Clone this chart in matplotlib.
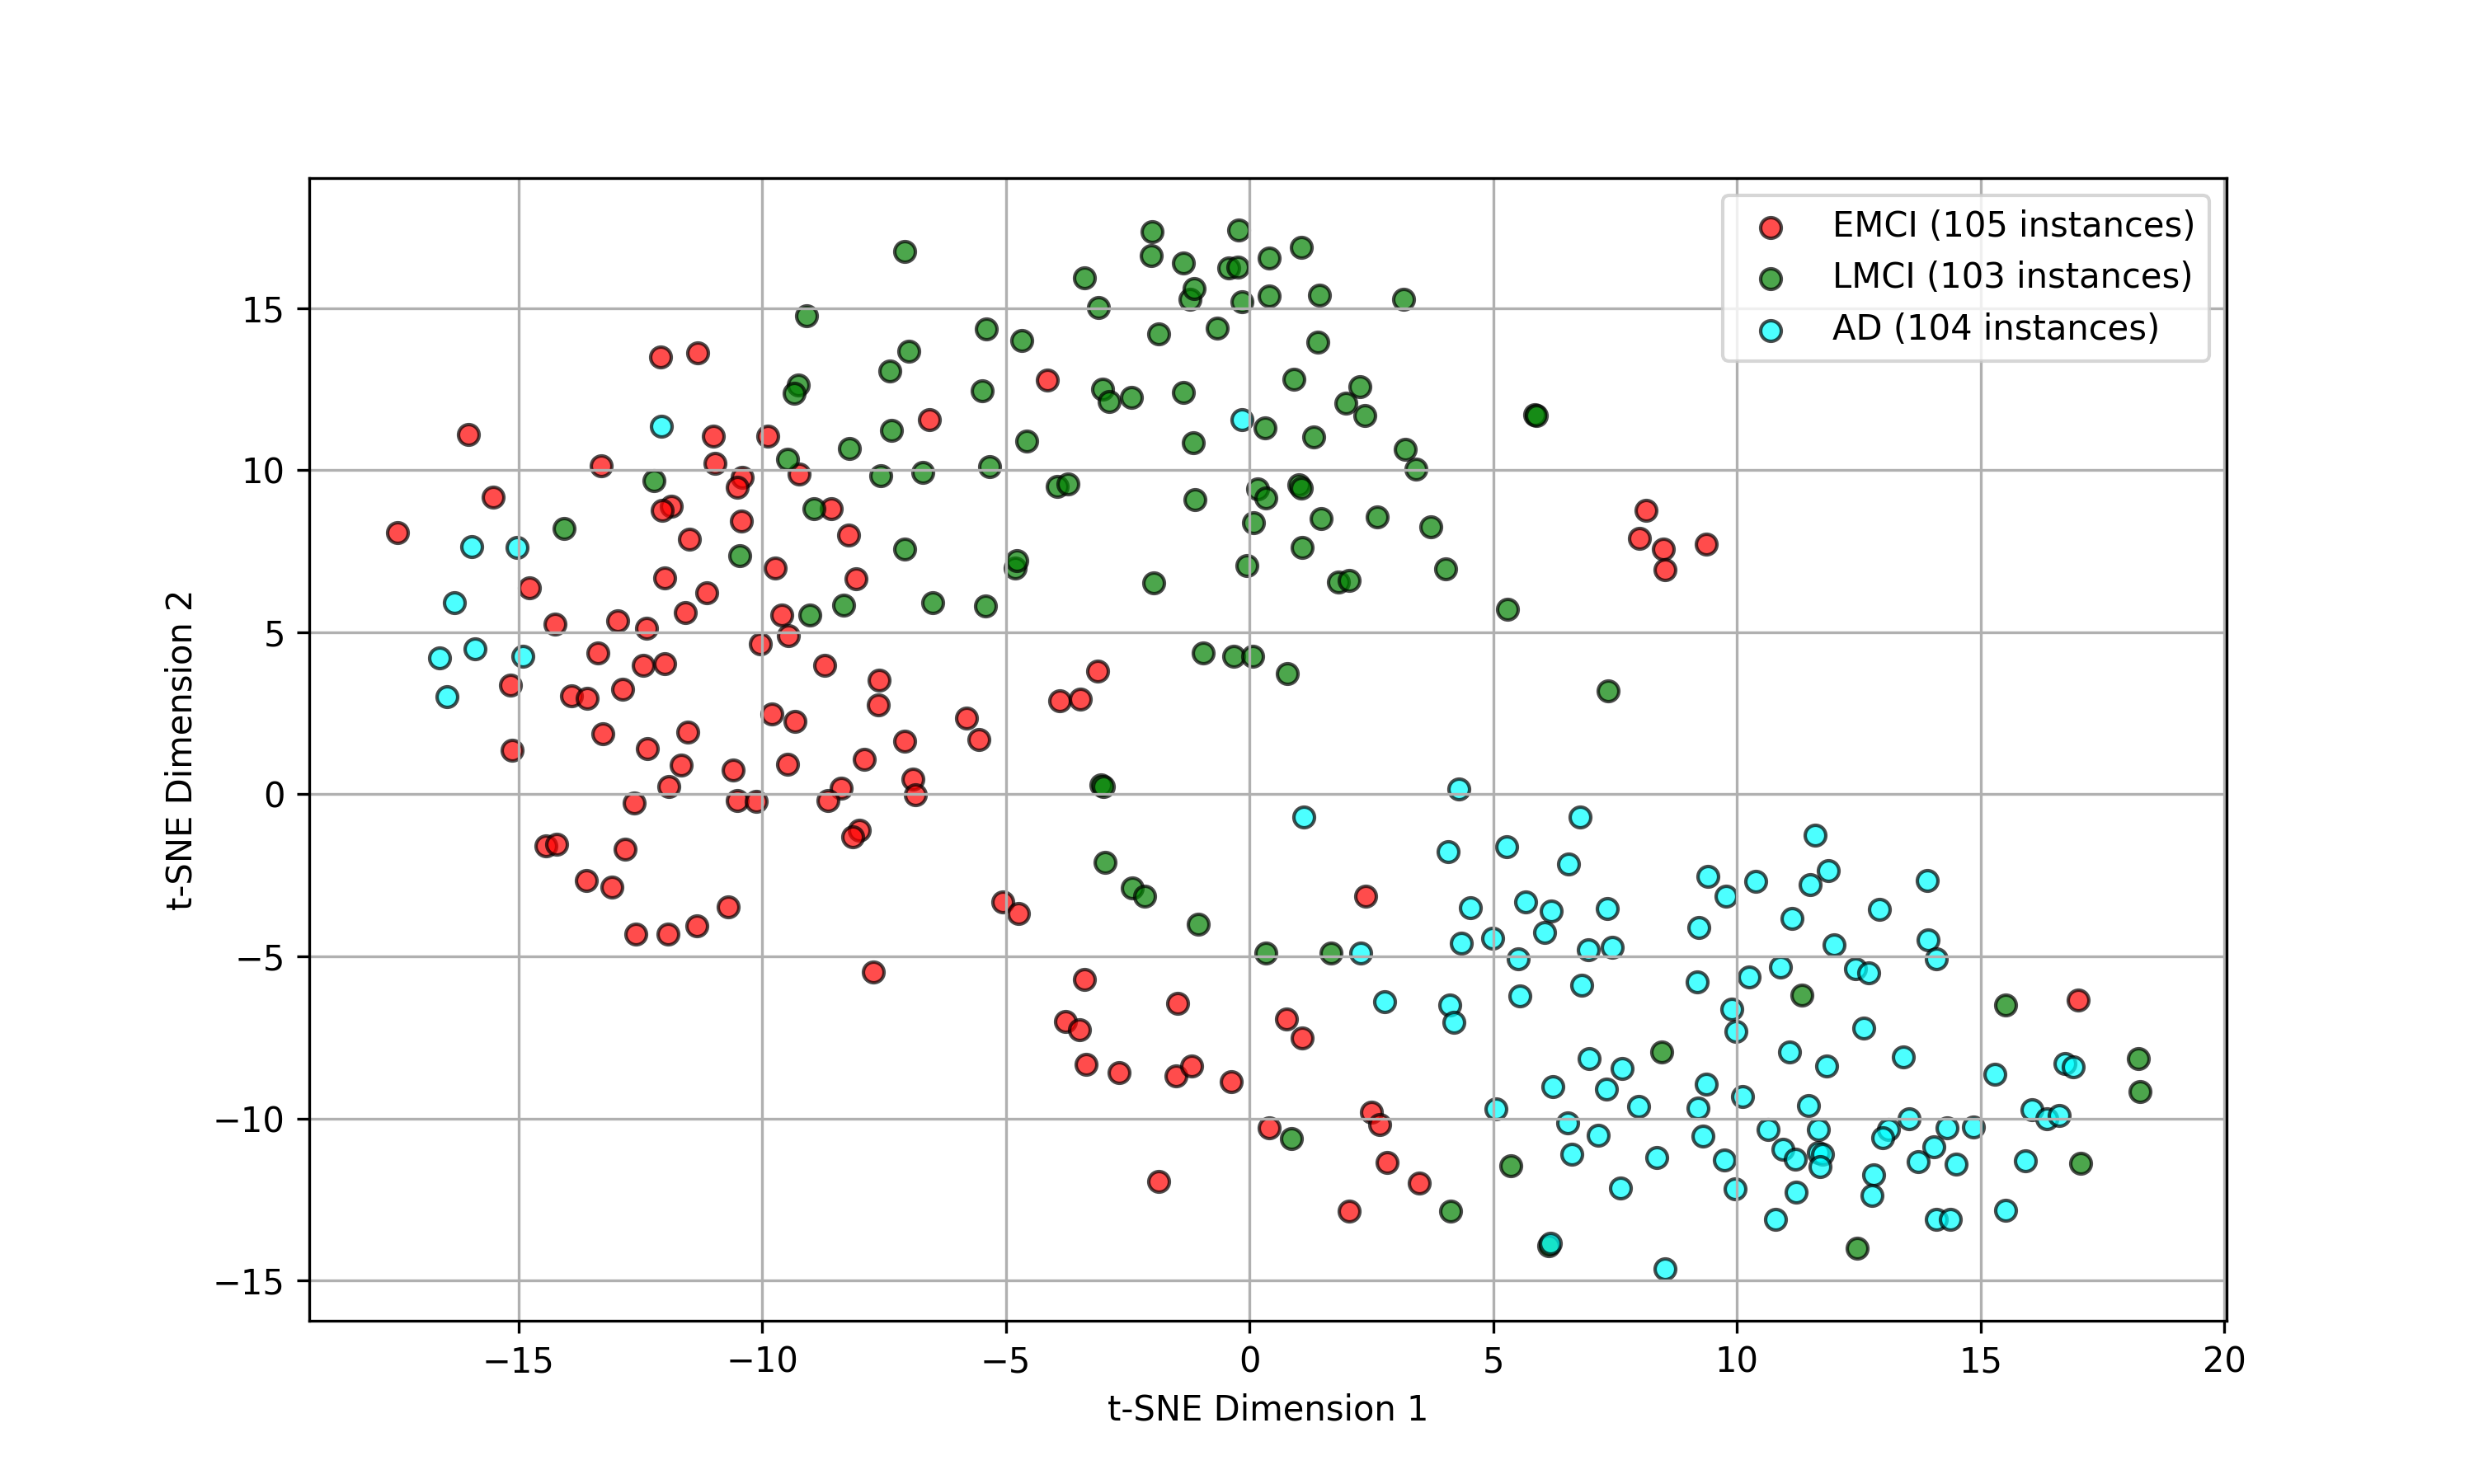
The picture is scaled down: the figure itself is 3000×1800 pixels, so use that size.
"""Scatter of the t-SNE embedding for the EMCI, LMCI and AD groups."""

import matplotlib
matplotlib.use("Agg")
import matplotlib.pyplot as plt

emci_x = [-12.08, -11.32, -16.02, -11.0, -9.89, -13.3, -10.97, -10.41, -10.5, -9.24,
          -8.58, -15.51, -11.86, -12.05, -10.42, -8.22, -17.48, -11.49, -9.73, -8.07,
          -14.78, -11.99, -11.13, -11.58, -9.59, -9.46, -10.04, -14.24, -12.96, -12.37,
          -13.37, -12.44, -11.99, -8.71, -15.16, -13.91, -13.59, -12.86, -9.79, -9.32,
          -13.27, -12.35, -11.53, -15.12, -11.66, -11.91, -10.59, -9.48, -12.63, -10.5,
          -10.12, -8.38, -8.65, -8.0, -8.14, -14.44, -14.22, -12.81, -13.6, -13.08,
          -10.69, -11.33, -11.93, -12.59,
          -6.56, -4.14, -7.59, -7.62, -7.07, -5.81, -5.55, -3.9, -3.47, -3.12,
          -7.91, -6.91, -6.85, -5.06, -4.74, -7.72, 2.38, -3.38, -3.77, -3.48,
          -3.35, -2.67, -1.47, 0.76, 1.08, -1.5, -1.18, -0.37, 0.4, 2.51,
          2.67, 2.83, 3.48, 2.05, -1.86, 8.14, 8.01, 8.5, 8.53, 9.37, 17.01]
emci_y = [13.48, 13.63, 11.1, 11.05, 11.06, 10.13, 10.2, 9.78, 9.47, 9.89,
          8.8, 9.16, 8.88, 8.77, 8.44, 8.01, 8.07, 7.88, 6.98, 6.64,
          6.37, 6.68, 6.22, 5.6, 5.53, 4.9, 4.63, 5.25, 5.35, 5.12,
          4.36, 3.99, 4.02, 3.97, 3.38, 3.05, 2.96, 3.23, 2.47, 2.26,
          1.88, 1.4, 1.93, 1.37, 0.89, 0.24, 0.76, 0.92, -0.28, -0.18,
          -0.22, 0.2, -0.2, -1.1, -1.3, -1.58, -1.53, -1.7, -2.67, -2.85,
          -3.46, -4.07, -4.32, -4.32,
          11.57, 12.77, 3.52, 2.75, 1.63, 2.36, 1.68, 2.89, 2.93, 3.79,
          1.09, 0.46, -0.02, -3.33, -3.67, -5.47, -3.14, -5.71, -7.02, -7.27,
          -8.34, -8.58, -6.44, -6.93, -7.51, -8.68, -8.39, -8.87, -10.28, -9.8,
          -10.19, -11.35, -11.98, -12.86, -11.94, 8.77, 7.9, 7.56, 6.93, 7.71, -6.34]

lmci_x = [-2.0, -0.22, -2.01, -1.36, -0.42, -0.24, 0.41, 1.07, -7.07, -3.38,
          -3.09, -1.22, -1.13, -0.16, 0.41, 1.43, 3.16, -9.08, -5.4, -4.67,
          -1.87, -0.66, 1.41, -6.99, -7.38, -5.49, -3.01, -2.88, -2.42, -1.36,
          0.92, 2.27, 1.98, 2.36, 5.85, 5.89, 0.32, 1.32, -1.15, -7.34,
          -4.57, 3.2, 3.42, -5.33, -6.7, -7.57, -3.95, -3.72, 0.17, 0.33,
          1.02, 1.07, -1.11, 1.47, 0.08, 2.62, 3.72, 1.09, -7.08, 4.03,
          -0.05, -4.81, -4.77, -1.96, 1.83, 2.04, -6.49, -5.42, 5.3, -0.94,
          -0.32, 0.07, 0.77, 7.36, -3.04, -3.0, -2.96, -2.41, -2.15, -1.05,
          0.34, 1.67, 0.86, 5.36, 4.13, 6.14, 11.33, 8.46, 12.47, 17.05,
          18.24, 18.27, 15.52,
          -9.25, -9.34, -8.2, -9.47, -12.21, -8.93, -14.07, -10.46, -8.32, -9.02]
lmci_y = [17.35, 17.4, 16.61, 16.38, 16.23, 16.26, 16.54, 16.87, 16.74, 15.92,
          15.02, 15.28, 15.6, 15.2, 15.38, 15.39, 15.26, 14.75, 14.35, 13.99,
          14.2, 14.37, 13.94, 13.66, 13.07, 12.44, 12.49, 12.13, 12.24, 12.39,
          12.81, 12.57, 12.06, 11.68, 11.7, 11.68, 11.3, 11.02, 10.84, 11.24,
          10.9, 10.64, 10.03, 10.1, 9.94, 9.82, 9.51, 9.58, 9.41, 9.13,
          9.56, 9.45, 9.08, 8.5, 8.39, 8.55, 8.24, 7.61, 7.56, 6.95,
          7.05, 6.98, 7.22, 6.52, 6.54, 6.61, 5.91, 5.81, 5.7, 4.35,
          4.25, 4.26, 3.72, 3.18, 0.3, 0.24, -2.11, -2.89, -3.14, -4.01,
          -4.89, -4.89, -10.62, -11.45, -12.86, -13.92, -6.2, -7.95, -14.0, -11.38,
          -8.15, -9.17, -6.49,
          12.63, 12.36, 10.68, 10.34, 9.67, 8.8, 8.21, 7.37, 5.84, 5.53]

ad_x = [-12.06, -15.95, -15.02, -16.31, -15.89, -16.62, -14.91, -16.46, -0.15,
        6.79, 4.07, 5.28, 6.55, 11.6, 9.41, 10.38, 9.78, 11.88, 11.51,
        12.93, 4.54, 5.66, 6.2, 7.35, 6.06, 9.22, 11.14, 4.35, 4.99,
        6.96, 7.45, 5.52, 11.99, 10.9, 10.26, 9.19, 12.43, 12.71, 6.82,
        5.55, 4.11, 4.2, 9.89, 9.99, 12.6, 11.09, 11.85, 6.97, 7.65,
        9.38, 6.23, 7.33, 10.12, 11.47, 7.99, 9.21, 5.06, 6.53, 7.16, 9.3,
        4.3, 1.12, 2.28, 2.77, 13.9, 13.93, 14.09,
        13.42, 15.29, 16.74, 16.9, 16.06, 16.36, 16.62, 13.53, 13.11, 12.99,
        14.31, 14.86, 10.64, 11.68, 6.62, 8.35, 9.74, 10.94, 11.2, 11.67,
        11.76, 11.71, 14.05, 13.72, 14.5, 15.92, 12.81, 12.78, 7.62, 9.97,
        11.21, 10.8, 14.09, 14.39, 15.51, 8.53, 6.17]
ad_y = [11.35, 7.65, 7.61, 5.91, 4.5, 4.22, 4.26, 3.0, 11.55,
        -0.71, -1.78, -1.62, -2.16, -1.27, -2.54, -2.69, -3.15, -2.36, -2.79,
        -3.56, -3.51, -3.33, -3.61, -3.53, -4.27, -4.12, -3.84, -4.6, -4.45,
        -4.8, -4.72, -5.08, -4.64, -5.34, -5.64, -5.79, -5.39, -5.52, -5.9,
        -6.23, -6.51, -7.04, -6.63, -7.32, -7.22, -7.96, -8.39, -8.16, -8.47,
        -8.95, -9.02, -9.1, -9.33, -9.61, -9.64, -9.69, -9.71, -10.14, -10.51, -10.55,
        0.17, -0.7, -4.89, -6.39, -2.65, -4.5, -5.08,
        -8.11, -8.64, -8.3, -8.4, -9.74, -10.01, -9.91, -10.0, -10.34, -10.6,
        -10.29, -10.26, -10.34, -10.35, -11.11, -11.21, -11.29, -10.96, -11.26, -11.05,
        -11.1, -11.48, -10.88, -11.34, -11.41, -11.31, -11.74, -12.38, -12.15, -12.18,
        -12.28, -13.12, -13.1, -13.1, -12.84, -14.64, -13.86]

plt.figure(figsize=(10, 6), dpi=300)
plt.scatter(emci_x, emci_y, c="red", edgecolors="k", alpha=0.7, s=36, label="EMCI (105 instances)")
plt.scatter(lmci_x, lmci_y, c="green", edgecolors="k", alpha=0.7, s=36, label="LMCI (103 instances)")
plt.scatter(ad_x, ad_y, c="cyan", edgecolors="k", alpha=0.7, s=36, label="AD (104 instances)")

plt.xlim(-19.29, 20.05)
plt.ylim(-16.24, 19.01)
plt.xlabel("t-SNE Dimension 1")
plt.ylabel("t-SNE Dimension 2")
plt.grid(True)
plt.legend(loc="upper right")

plt.savefig("out.png")
